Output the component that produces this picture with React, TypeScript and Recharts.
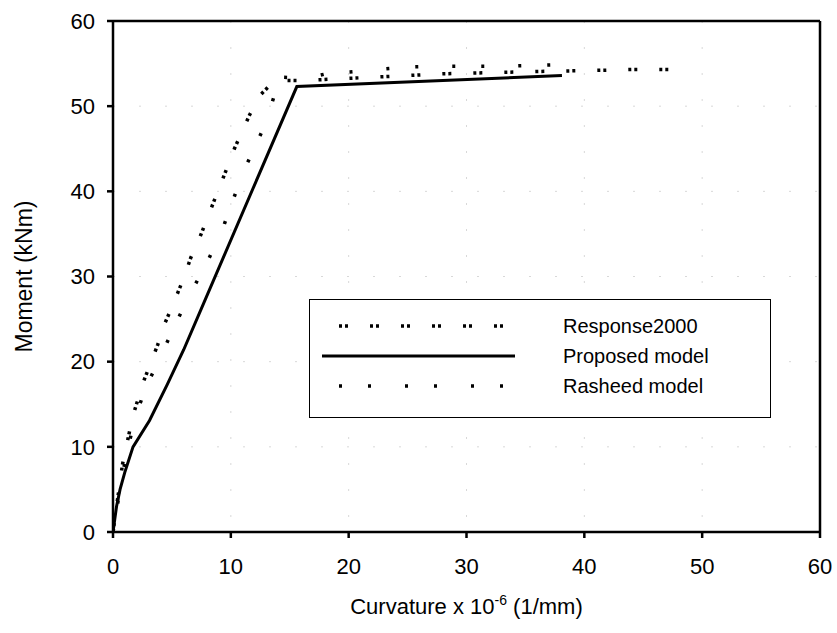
import { LineChart, Line, XAxis, YAxis, CartesianGrid, ReferenceLine, Legend } from "recharts";

// curvature (x 10^-6 1/mm), moment (kNm)
const response2000 = [
  [0, 0], [0.3, 3], [0.6, 5.9], [0.8, 7.9], [1.2, 10.5], [1.7, 13.7], [2.6, 17.7],
  [3.8, 22], [4.4, 24.5], [5, 26.4], [6, 29.8], [6.6, 32.2], [7.2, 34], [8.3, 37.9],
  [9.3, 41.4], [10.3, 45], [11.6, 49], [12.5, 51.3], [13.2, 52.3], [14, 53.0],
  [16, 53.0], [19, 53.2], [22, 53.4], [25, 53.6], [28, 53.8], [31, 53.9], [34, 54.0],
  [37, 54.1], [41, 54.2], [44, 54.3], [48.8, 54.3],
];
const proposed = [
  [0, 0], [0.15, 1.5], [0.3, 3], [0.6, 5], [1, 7], [1.7, 10], [3.1, 13.1], [4.6, 17.3],
  [6, 21.4], [7.8, 27.2], [15.6, 52.3], [38.1, 53.6],
];
const rasheed = [
  [0, 0], [0.3, 2.5], [0.7, 6], [1.2, 9.5], [2, 14], [2.9, 17.3], [4, 20.5], [5.4, 24.7],
  [6.5, 27.8], [8.1, 32], [9.2, 35.2], [10.3, 39.4], [11.2, 42.7], [12.6, 46.9], [13.4, 50],
  [14.2, 53.4], [16.5, 53.3], [18.4, 53.9], [20.1, 54.0], [22.5, 54.3], [25, 54.6],
  [28, 54.7], [31, 54.7], [33.5, 54.7], [36, 54.8], [38.5, 54.9],
];
const xTicks = [0, 10, 20, 30, 40, 50, 60];
const yTicks = [0, 10, 20, 30, 40, 50, 60];
const seriesNames = ["Response2000", "Proposed model", "Rasheed model"];

const toPoints = (arr: number[][]) => arr.map(([x, y]) => ({ x, y }));

const font = "'Liberation Sans', Arial, sans-serif";
const dashes = ["3 3 3 22", undefined, "3 26 3 34"];

const LegendBox = () => (
  <div
    style={{
      width: 460,
      height: 117,
      border: "1.5px solid #000",
      background: "#fff",
      fontFamily: font,
      fontSize: 20,
      position: "relative",
    }}
  >
    {seriesNames.map((name, i) => (
      <div key={name} style={{ position: "absolute", left: 0, top: 13 + i * 30, height: 26, width: 460 }}>
        <svg width={220} height={26} style={{ position: "absolute", left: 0, top: 0 }}>
          <line
            x1={i === 1 ? 12 : 29}
            x2={i === 1 ? 205 : 200}
            y1={13}
            y2={13}
            stroke="#000"
            strokeWidth={i === 1 ? 3 : 3.5}
            strokeDasharray={dashes[i]}
          />
        </svg>
        <span style={{ position: "absolute", left: 253, top: 1, lineHeight: "24px", color: "#000" }}>{name}</span>
      </div>
    ))}
  </div>
);

const XTitle = (props: any) => {
  const vb = props.viewBox || {};
  const cx = vb.x + vb.width / 2;
  return (
    <text x={cx} y={614} textAnchor="middle" fontFamily={font} fontSize={22} fill="#000">
      Curvature x 10
      <tspan fontSize={14} dy={-9}>-6</tspan>
      <tspan dy={9}> (1/mm)</tspan>
    </text>
  );
};

export default function App() {
  return (
    <div style={{ position: "absolute", left: 0, top: 0, background: "#fff" }}>
      <LineChart width={837} height={633} margin={{ top: 21, right: 17, bottom: 0, left: 0 }}>
        <CartesianGrid stroke="#d8d8d8" strokeDasharray="2 24" />
        <XAxis
          type="number"
          dataKey="x"
          domain={[0, 60]}
          ticks={xTicks}
          height={101}
          tick={{ fontSize: 22, fontFamily: font, fill: "#000", dy: 18 }}
          tickSize={6}
          stroke="#000"
          strokeWidth={2.5}
          label={<XTitle />}
          allowDataOverflow
        />
        <YAxis
          type="number"
          dataKey="y"
          domain={[0, 60]}
          ticks={yTicks}
          width={113}
          tick={{ fontSize: 22, fontFamily: font, fill: "#000", dx: -10 }}
          tickSize={6}
          stroke="#000"
          strokeWidth={2.5}
          label={{
            value: "Moment (kNm)",
            angle: -90,
            position: "insideLeft",
            offset: 24,
            style: { fontSize: 23, fontFamily: font, fill: "#000", textAnchor: "middle" },
          }}
        />
        <ReferenceLine y={60} stroke="#000" strokeWidth={2.5} />
        <ReferenceLine x={60} stroke="#000" strokeWidth={2.5} />
        <Legend
          layout="horizontal"
          verticalAlign="middle"
          align="center"
          content={<LegendBox />}
          wrapperStyle={{ position: "absolute", left: 309, top: 299, width: 462, height: 119 }}
        />
        <Line
          data={toPoints(rasheed)}
          dataKey="y"
          name={seriesNames[2]}
          stroke="#000"
          strokeWidth={3.5}
          strokeDasharray={dashes[2]}
          dot={false}
          isAnimationActive={false}
        />
        <Line
          data={toPoints(response2000)}
          dataKey="y"
          name={seriesNames[0]}
          stroke="#000"
          strokeWidth={3.5}
          strokeDasharray={dashes[0]}
          dot={false}
          isAnimationActive={false}
        />
        <Line
          data={toPoints(proposed)}
          dataKey="y"
          name={seriesNames[1]}
          stroke="#000"
          strokeWidth={3}
          dot={false}
          isAnimationActive={false}
        />
      </LineChart>
    </div>
  );
}
